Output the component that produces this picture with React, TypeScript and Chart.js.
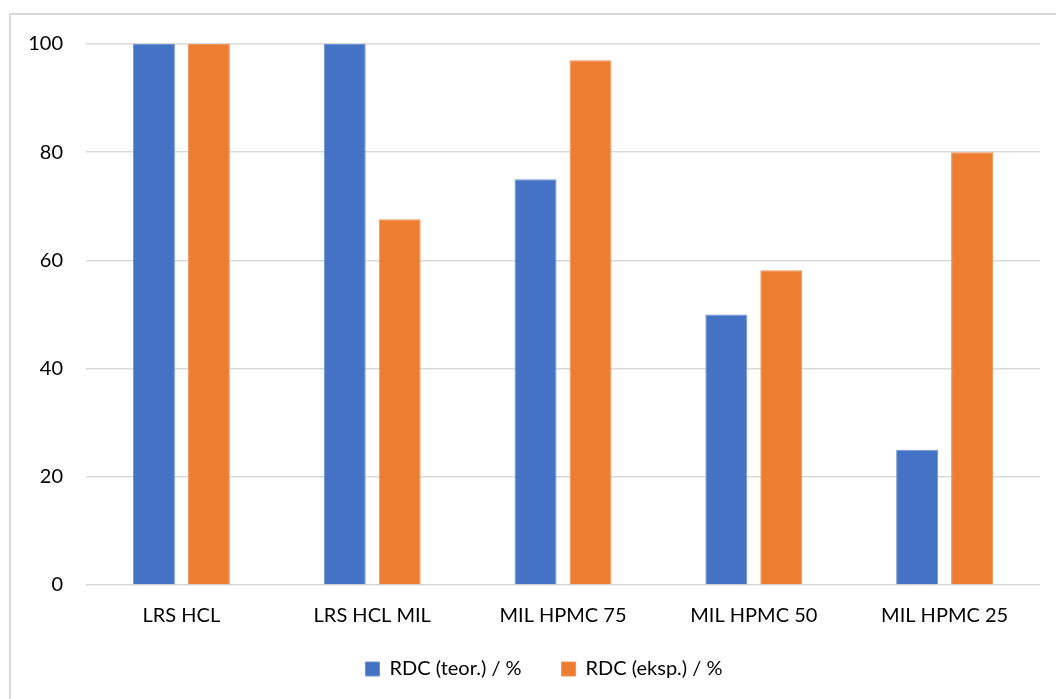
import React, { useEffect, useRef } from "react";
import { Chart, registerables } from "chart.js";

Chart.register(...registerables);

const categories = ["LRS HCL", "LRS HCL MIL", "MIL HPMC 75", "MIL HPMC 50", "MIL HPMC 25"];
const teorValues = [100, 100, 75, 50, 25];
const ekspValues = [100, 67.6, 97, 58.2, 80];
const seriesNames = ["RDC (teor.) / %", "RDC (eksp.) / %"];
const yTicks = [0, 20, 40, 60, 80, 100];

const FONT = "Lato, 'Liberation Sans', sans-serif";
const FS = 20;

const framePlugin = {
  id: "frameBorder",
  beforeDraw(chart: any) {
    const ctx = chart.ctx;
    ctx.save();
    ctx.fillStyle = "#ffffff";
    ctx.fillRect(0, 0, chart.width, chart.height);
    ctx.strokeStyle = "#d9d9d9";
    ctx.lineWidth = 2;
    ctx.strokeRect(10, 14, chart.width + 10, chart.height + 10);
    ctx.restore();
  },
  afterLayout(chart: any) {
    const lg = chart.legend;
    if (lg) {
      lg.left += 24;
      lg.right += 24;
      lg.top -= 10;
      lg.bottom -= 10;
    }
  },
};

export default function App() {
  const ref = useRef<HTMLCanvasElement | null>(null);
  useEffect(() => {
    if (!ref.current) return;
    const chart = new Chart(ref.current, {
      type: "bar",
      data: {
        labels: categories,
        datasets: [
          {
            label: seriesNames[0],
            data: teorValues,
            backgroundColor: "#4472C4",
            borderColor: "#6f92d3",
            borderWidth: 1,
            barPercentage: 0.764,
            categoryPercentage: 0.576,
          },
          {
            label: seriesNames[1],
            data: ekspValues,
            backgroundColor: "#ED7D31",
            borderColor: "#f0955a",
            borderWidth: 1,
            barPercentage: 0.764,
            categoryPercentage: 0.576,
          },
        ],
      },
      options: {
        animation: false,
        responsive: false,
        maintainAspectRatio: false,
        devicePixelRatio: 1,
        layout: { padding: { top: 44, right: 16, left: 0, bottom: 0 } },
        plugins: {
          tooltip: { enabled: false },
          legend: {
            position: "bottom",
            labels: {
              boxWidth: 14,
              boxHeight: 14,
              padding: 40,
              color: "#000000",
              font: { family: FONT, size: FS },
            },
          },
        },
        scales: {
          x: {
            grid: { display: false, drawTicks: false },
            border: { display: false },
            ticks: {
              color: "#000000",
              font: { family: FONT, size: FS },
              padding: 19,
            },
            afterFit(axis: any) {
              axis.height = 44;
            },
          },
          y: {
            min: 0,
            max: 100,
            afterBuildTicks(axis: any) {
              axis.ticks = yTicks.map((v) => ({ value: v }));
            },
            grid: { color: "#d9d9d9", lineWidth: 1.5, drawTicks: false },
            border: { display: false },
            ticks: {
              color: "#000000",
              font: { family: FONT, size: FS },
              padding: 23,
            },
            afterFit(axis: any) {
              axis.width = 86;
            },
          },
        },
      },
      plugins: [framePlugin],
    } as any);
    return () => chart.destroy();
  }, []);
  return (
    <div style={{ position: "fixed", left: 0, top: 0, width: 1056, height: 699 }}>
      <canvas ref={ref} width={1056} height={699} style={{ width: 1056, height: 699 }} />
    </div>
  );
}
